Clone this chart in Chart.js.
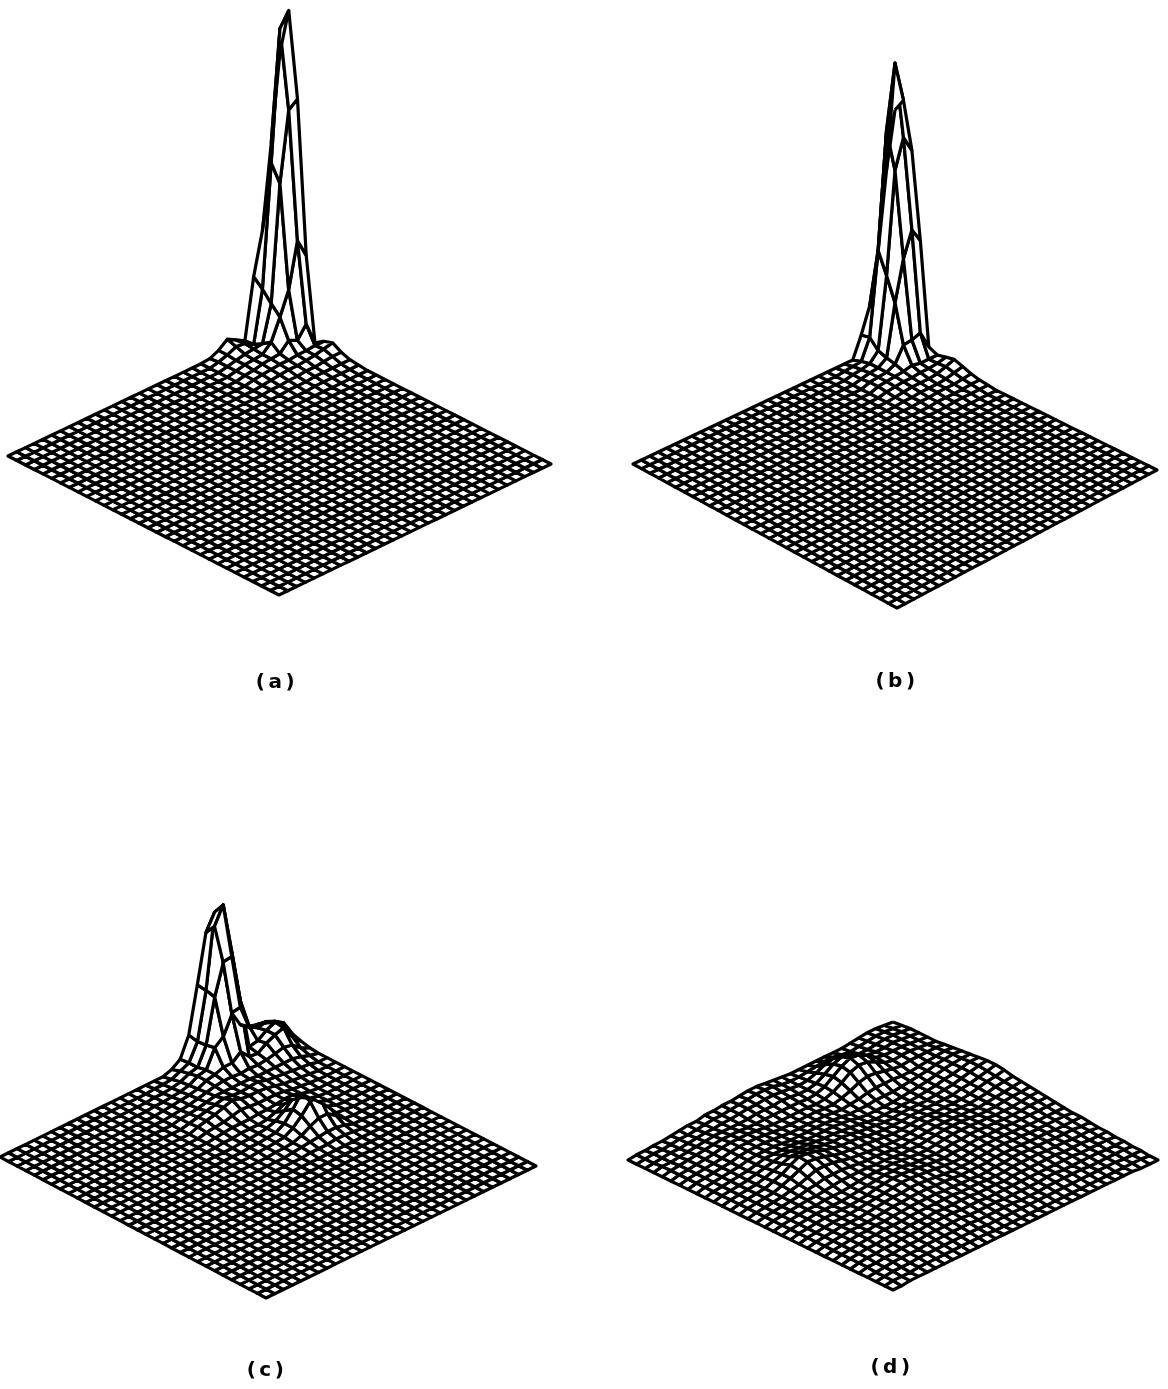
<!DOCTYPE html>
<html>
<head>
<meta charset="utf-8">
<title>Surfaces</title>
<script src="https://cdn.jsdelivr.net/npm/chart.js@4/dist/chart.umd.min.js"></script>
<style>
  html, body { margin: 0; padding: 0; background: #fff; }
  #page { position: relative; width: 1168px; height: 1389px; overflow: hidden; }
  .cell { position: absolute; width: 584px; height: 695px; }
  .tag { position: absolute; font: bold 20px "DejaVu Sans", sans-serif; letter-spacing: 3.5px; color: #000; transform: translateX(-50%); white-space: nowrap; }
</style>
</head>
<body>
<div id="page"></div>
<script>
// --- DATA: height of each grid node (rows not listed are flat) ---
const gridSize = 32;
const panelLabels = ['(a)', '(b)', '(c)', '(d)'];

const heightsA = [
  [274,320,236,84,1,7,10,5,2,1],
  [187,306,229,103,24,7,8,5,2,1],
  [104,176,160,58,12,6,6,4,2,1],
  [62,54,44,35,16,6,5,3,2,1],
  [2,3,8,14,7,5,4,3,2,1],
  [7,8,7,6,6,5,4,2,1,1],
  [12,9,6,5,5,4,3,2,1],
  [5,5,4,4,3,3,2,1,1],
  [1,2,2,2,2,2,1,1]
];

const heightsB = [
  [230,244,198,112,10,6,8,10,7,4,2,1],
  [174,285,215,127,28,6,6,7,5,3,2,1],
  [96,222,186,102,25,6,5,4,3,2,1,1],
  [46,106,85,62,24,8,5,3,2,2,1,1],
  [21,23,14,11,9,6,4,3,2,2,1,1],
  [0,3,5,5,5,5,4,3,2,1,1],
  [0,2,3,4,4,4,3,2,1,1],
  [0,1,2,2,3,3,2,1,1]
];

const heightsC = [
  [4,8,10,6,3,1],
  [6,12,18,21,12,5,2],
  [8,14,22,26,25,12,5,2],
  [14,16,20,22,22,14,7,3,1],
  [30,40,26,16,18,12,7,4,2,1],
  [85,95,55,14,12,10,7,5,3,2,1,1,1,1,1],
  [125,151,108,60,13,9,7,6,4,3,3,3,4,4,2,1],
  [123,148,102,55,22,10,7,7,6,5,6,8,14,20,16,8,3,1],
  [75,74,72,37,15,9,8,10,8,6,6,10,22,34,28,14,5,2],
  [29,27,28,30,15,10,8,9,9,6,5,10,20,30,26,14,5,2],
  [9,10,10,12,12,10,8,8,9,6,4,6,12,18,16,10,4,1],
  [3,6,8,10,10,9,8,9,10,7,4,3,6,8,8,5,3,1],
  [0,2,4,5,6,7,8,10,13,8,3,2,3,3,3,2,2,1],
  [0,1,2,3,4,5,6,8,10,6,3,2,2,2,2,1,1],
  [0,1,1,2,3,3,4,6,7,4,3,2,1,1,1,1],
  [0,0,1,1,2,2,3,4,5,3,2,1,1,1,1],
  [0,0,0,1,1,1,2,2,3,2,1,1]
];

const heightsD = [
  [7,8,9,9,9,9,10,11,12,13,14,15,15,14,12,11,10,9,8,7,6,5,5,4,3,3,2,2,1,1,0,0],
  [8,9,10,10,10,10,11,12,13,13,14,14,13,12,11,10,9,9,8,7,6,6,5,4,4,3,3,2,2,1,1,0],
  [9,10,11,11,11,11,11,11,12,12,12,12,11,11,10,9,9,8,8,7,6,6,5,5,4,3,3,2,2,1,1,0],
  [9,10,11,12,12,12,11,10,11,11,10,10,9,9,8,8,8,7,7,7,6,6,5,5,4,4,3,3,2,2,1,1],
  [8,9,10,11,12,12,11,9,9,9,9,8,8,7,7,7,7,7,7,7,6,6,6,5,5,4,3,3,2,2,1,1],
  [7,8,9,11,12,11,10,8,8,7,7,7,6,6,6,6,7,7,7,7,7,6,6,6,5,4,4,3,2,2,1,1],
  [6,7,9,12,14,13,11,8,7,6,6,6,6,6,6,7,7,8,8,8,7,7,6,6,5,5,4,3,3,2,1,1],
  [6,8,12,17,20,18,13,9,6,5,5,5,6,6,7,7,8,8,8,8,8,7,7,6,6,5,4,3,3,2,1,1],
  [6,10,16,22,25,22,15,9,5,4,4,5,6,6,7,8,9,9,9,8,8,8,7,7,6,5,4,4,3,2,1,1],
  [6,10,17,23,26,23,16,9,5,3,4,5,6,7,8,8,9,9,9,9,8,8,7,7,6,5,4,4,3,2,1,1],
  [6,9,15,20,22,20,14,8,5,3,3,5,6,7,8,8,9,9,8,8,8,7,7,6,6,5,4,3,3,2,1,1],
  [6,8,11,14,16,14,10,6,4,3,3,4,5,6,7,7,8,8,8,7,7,7,6,6,5,5,4,3,2,2,1,1],
  [6,7,8,9,10,9,7,5,4,3,3,4,5,5,6,6,7,7,7,7,6,6,6,5,5,4,4,3,2,2,1,1],
  [7,7,7,7,7,6,5,4,4,4,4,5,5,5,5,6,6,6,6,6,6,6,6,5,5,5,4,3,2,2,1,1],
  [8,8,8,7,6,5,5,5,5,6,6,6,6,6,5,5,6,6,7,7,7,6,6,6,6,5,4,3,3,2,1,1],
  [9,10,9,8,7,6,6,6,6,7,7,7,7,7,6,6,6,7,7,8,8,7,7,6,6,5,4,4,3,2,1,1],
  [10,11,10,9,7,6,6,6,7,8,8,9,9,8,7,7,7,8,8,9,9,8,8,7,6,6,5,4,3,2,1,1],
  [10,11,10,8,7,6,6,6,7,8,9,10,10,9,8,8,8,9,10,10,10,9,8,7,7,6,5,4,3,2,1,1],
  [9,10,9,8,7,6,6,6,7,8,9,10,10,10,9,8,8,9,10,11,11,10,9,8,7,6,5,4,3,2,1,1],
  [8,9,9,8,7,6,6,6,7,8,10,11,12,11,10,9,9,9,10,11,11,10,9,8,7,6,6,5,4,3,2,1],
  [8,8,8,7,7,7,7,7,7,9,11,13,14,13,12,10,9,9,9,10,10,9,9,8,7,7,6,5,4,3,2,1],
  [7,7,7,7,7,8,8,8,8,10,12,15,17,16,14,11,9,8,8,9,9,9,8,8,7,6,6,5,4,3,2,1],
  [7,7,7,7,8,9,9,9,9,10,13,16,19,18,15,11,9,7,7,7,8,8,8,7,7,6,6,5,4,3,2,1],
  [5,6,6,7,8,9,9,9,9,10,13,16,20,19,15,11,8,6,6,6,7,7,7,7,6,6,5,5,4,3,2,1],
  [5,5,6,7,8,9,9,9,9,10,11,13,16,15,12,9,7,6,5,5,6,6,6,6,6,5,5,4,4,3,2,1],
  [4,4,5,6,7,8,8,8,8,8,9,10,11,11,9,8,6,6,5,5,5,5,5,6,6,5,5,4,3,3,2,1],
  [3,4,4,5,6,6,6,6,6,6,7,7,8,8,7,6,6,5,5,5,5,5,5,5,5,5,4,4,3,3,2,1],
  [2,3,3,4,5,5,5,5,5,5,5,5,5,5,5,5,5,5,5,5,5,5,5,5,5,4,4,3,3,2,2,1],
  [2,2,3,3,4,4,4,4,4,4,4,4,4,4,4,4,4,4,4,4,4,4,4,4,4,4,3,3,3,2,1,1],
  [1,2,2,2,3,3,3,3,3,3,3,3,3,3,3,3,3,3,3,3,3,3,3,3,3,3,3,2,2,2,1,1],
  [1,1,1,2,2,2,2,2,2,2,2,2,2,2,2,2,2,2,2,2,2,2,2,2,2,2,2,2,1,1,1,0]
];

// --- VISTA: esquinas del plano (atras, izquierda, derecha, frente) de cada panel ---
const panels = [
  { heights: heightsA, left: 0,   top: 0,   back: [280,326], west: [8,456],   east: [551,464],  front: [279,595], tag: [277,669] },
  { heights: heightsB, left: 584, top: 0,   back: [311,340], west: [49,464],  east: [573,470],  front: [313,608], tag: [313,668] },
  { heights: heightsC, left: 0,   top: 694, back: [266,332], west: [0,463],   east: [536,472],  front: [266,604], tag: [267,663] },
  { heights: heightsD, left: 584, top: 694, back: [309,335], west: [44,466],  east: [574,466],  front: [309,596], tag: [308,660] }
];

function nodeAt(p, i, j) {
  const a = i / (gridSize - 1), b = j / (gridSize - 1);
  const row = p.heights[i] || [];
  const z = row[j] || 0;
  const mix = k => (1 - a) * (1 - b) * p.back[k] + a * (1 - b) * p.west[k] + (1 - a) * b * p.east[k] + a * b * p.front[k];
  return { x: mix(0), y: mix(1) - z };
}

// Una celda por dataset, de atras hacia adelante: el relleno blanco tapa lo que queda detras
function buildCells(p) {
  const cells = [];
  for (let s = 0; s <= 2 * (gridSize - 2); s++) {
    for (let i = 0; i < gridSize - 1; i++) {
      const j = s - i;
      if (j < 0 || j >= gridSize - 1) continue;
      cells.push({
        data: [nodeAt(p, i, j), nodeAt(p, i + 1, j), nodeAt(p, i + 1, j + 1), nodeAt(p, i, j + 1), nodeAt(p, i, j)],
        showLine: true,
        fill: 'shape',
        backgroundColor: '#fff',
        borderColor: '#000',
        borderWidth: 3.2,
        borderJoinStyle: 'round',
        pointRadius: 0
      });
    }
  }
  return cells;
}

const page = document.getElementById('page');
panels.forEach((p, n) => {
  const box = document.createElement('div');
  box.className = 'cell';
  box.style.left = p.left + 'px';
  box.style.top = p.top + 'px';
  const canvas = document.createElement('canvas');
  canvas.width = 584;
  canvas.height = 695;
  box.appendChild(canvas);
  page.appendChild(box);

  new Chart(canvas, {
    type: 'scatter',
    data: { datasets: buildCells(p) },
    options: {
      responsive: false,
      animation: false,
      events: [],
      layout: { padding: 0 },
      plugins: { legend: { display: false }, tooltip: { enabled: false } },
      scales: {
        x: { type: 'linear', min: 0, max: 584, display: false },
        y: { type: 'linear', min: 0, max: 695, reverse: true, display: false }
      }
    }
  });

  const tag = document.createElement('div');
  tag.className = 'tag';
  tag.textContent = panelLabels[n];
  tag.style.left = (p.left + p.tag[0]) + 'px';
  tag.style.top = (p.top + p.tag[1]) + 'px';
  page.appendChild(tag);
});
</script>
</body>
</html>
